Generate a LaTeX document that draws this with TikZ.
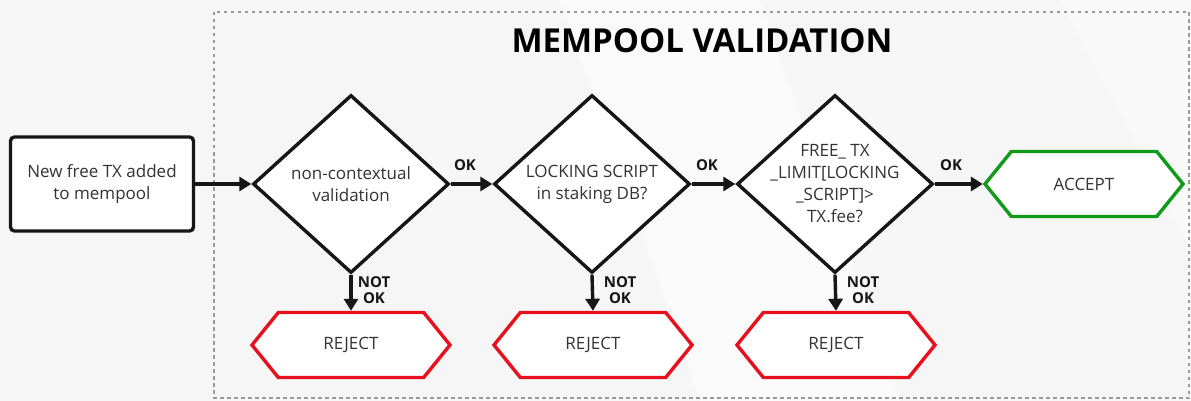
\documentclass[tikz,border=0pt]{standalone}
\usepackage{fontspec}
\setmainfont{Open Sans}
\usetikzlibrary{shapes.geometric,shapes.symbols,arrows.meta}
\definecolor{bgc}{HTML}{F6F6F6}
\definecolor{ink}{HTML}{161616}
\definecolor{txt}{HTML}{333333}
\definecolor{rejc}{HTML}{E8101C}
\definecolor{accc}{HTML}{109A1A}
\definecolor{framec}{HTML}{9A9A9A}
\begin{document}
\begin{tikzpicture}[x=1pt,y=-1pt,
  lw/.style={line width=3.4pt},
  body/.style={text=txt,font=\fontsize{17}{22}\selectfont},
  startbox/.style={draw=ink,lw,fill=white,rounded corners=4pt,minimum width=183pt,minimum height=94pt,inner sep=0pt,align=center,body},
  decision/.style={diamond,draw=ink,lw,fill=white,minimum width=196pt,minimum height=178pt,inner sep=0pt},
  dtext/.style={body,align=center,inner sep=0pt},
  terminal/.style={signal,signal to=east and west,signal pointer angle=102,lw,fill=white,minimum width=198pt,minimum height=65pt,inner sep=0pt,body},
  flow/.style={draw=ink,lw,-{Triangle[length=12pt,width=14pt]}},
  lab/.style={font=\bfseries\fontsize{15}{16.5}\selectfont,text=ink,inner sep=0pt,align=center}
]
\useasboundingbox (0,0) rectangle (1191,401);
\fill[bgc] (0,0) rectangle (1191,401);
\fill[white,opacity=0.5] (560,0) -- (760,0) -- (900,401) -- (700,401) -- cycle;
\fill[white,opacity=0.4] (1060,0) -- (1191,0) -- (1191,250) -- cycle;
\draw[framec,line width=2.5pt,dash pattern=on 3.5pt off 3.5pt] (214,12) rectangle (1189,398);
\node[font=\bfseries\fontsize{33}{36}\selectfont,text=black] (title) at (702,41) {MEMPOOL VALIDATION};

\node[startbox] (start) at (102,184) {New free TX added\\to mempool};
\node[decision] (d1) at (351,184) {};
\node[dtext] (t1) at (d1.center) {non-contextual\\validation};
\node[decision] (d2) at (592,184) {};
\node[dtext] (t2) at (d2.center) {LOCKING SCRIPT\\in staking DB?};
\node[decision] (d3) at (835,184) {};
\node[dtext] (t3) at (d3.center) {FREE\_ TX\\\_LIMIT[LOCKING\\\_SCRIPT]>\\TX.fee?};
\node[terminal,draw=accc] (acc) at (1084,184) {ACCEPT};
\node[terminal,draw=rejc] (r1) at (351,345) {REJECT};
\node[terminal,draw=rejc] (r2) at (593,345) {REJECT};
\node[terminal,draw=rejc] (r3) at (836,345) {REJECT};

\draw[flow] (start.east) -- (d1.west);
\draw[flow] (d1.east) -- (d2.west);
\draw[flow] (d2.east) -- (d3.west);
\draw[flow] (d3.east) -- (acc.west);
\draw[flow] (d1.south) -- (r1.north);
\draw[flow] (d2.south) -- (r2.north);
\draw[flow] (d3.south) -- (r3.north);

\node[lab] (ok1) at (465,165) {OK};
\node[lab] (ok2) at (707,165) {OK};
\node[lab] (ok3) at (951,165) {OK};
\node[lab] (no1) at (374,290) {NOT\\OK};
\node[lab] (no2) at (620,290) {NOT\\OK};
\node[lab] (no3) at (863,290) {NOT\\OK};
\end{tikzpicture}
\end{document}
